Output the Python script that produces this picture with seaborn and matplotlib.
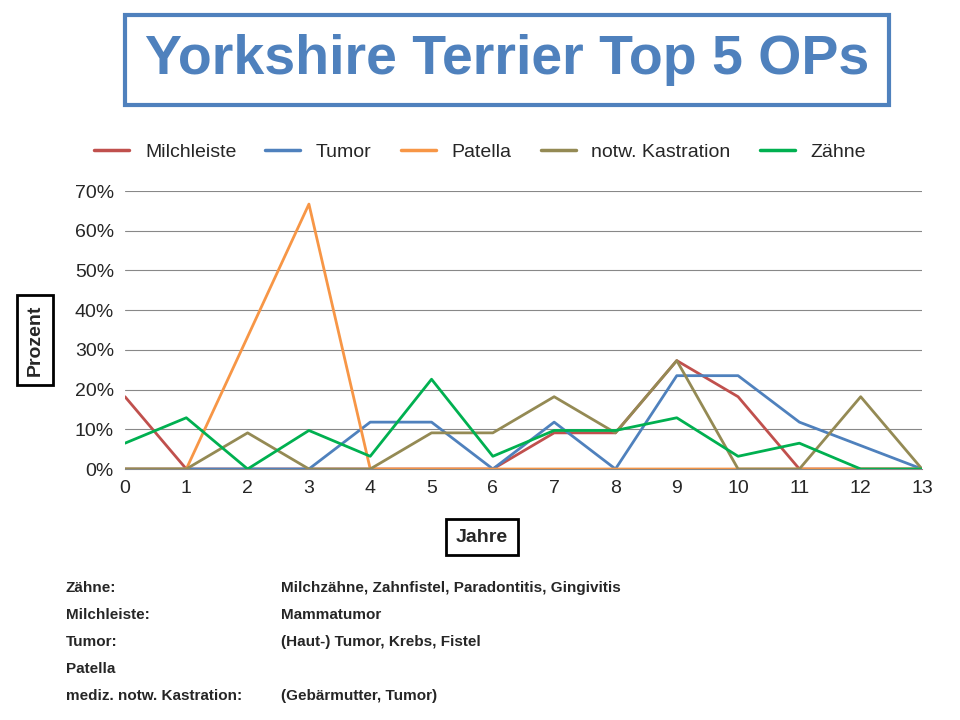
import matplotlib
matplotlib.use("Agg")
import matplotlib.pyplot as plt
from matplotlib.ticker import PercentFormatter
import seaborn as sns
import pandas as pd

jahre = list(range(14))
milchleiste = [18.2, 0, 0, 0, 0, 0, 0, 9.1, 9.1, 27.3, 18.2, 0, 0, 0]
tumor = [0, 0, 0, 0, 11.8, 11.8, 0, 11.8, 0, 23.5, 23.5, 11.8, 5.9, 0]
patella = [0, 0, 33.3, 66.7, 0, 0, 0, 0, 0, 0, 0, 0, 0, 0]
kastration = [0, 0, 9.1, 0, 0, 9.1, 9.1, 18.2, 9.1, 27.3, 0, 0, 18.2, 0]
zaehne = [6.5, 12.9, 0, 9.7, 3.2, 22.6, 3.2, 9.7, 9.7, 12.9, 3.2, 6.5, 0, 0]

serien = {"Milchleiste": milchleiste, "Tumor": tumor, "Patella": patella,
          "notw. Kastration": kastration, "Zähne": zaehne}
farben = ["#C0504D", "#4F81BD", "#F79646", "#948A54", "#00B050"]

df = pd.DataFrame([(j, name, v) for name, vals in serien.items() for j, v in zip(jahre, vals)],
                  columns=["Jahr", "Serie", "Wert"])

sns.set_style("white")
plt.rcParams['font.family'] = ['Liberation Sans', 'DejaVu Sans']

fig = plt.figure(figsize=(9.6, 7.2), dpi=100)
ax = fig.add_axes([125/960, 1-469/720, (922-125)/960, (469-191)/720])
sns.lineplot(data=df, x="Jahr", y="Wert", hue="Serie", palette=farben, linewidth=2, ax=ax, legend=False)

ax.set_xlim(0, 13)
ax.set_ylim(0, 70)
ax.set_xticks(jahre)
ax.set_yticks(range(0, 71, 10))
ax.yaxis.set_major_formatter(PercentFormatter(decimals=0))
ax.tick_params(labelsize=14, length=0, pad=8)
ax.grid(axis="y", color="#888888", linewidth=0.8)
for s in ["top", "right", "left"]:
    ax.spines[s].set_visible(False)
ax.spines["bottom"].set_color("#888888")
ax.set_xlabel("")
ax.set_ylabel("")

fig.text(507/960, 1-60/720, "Yorkshire Terrier Top 5 OPs", ha="center", va="center",
         fontsize=40, fontweight="bold", color="#4F81BD",
         bbox=dict(boxstyle="square,pad=0.35", fc="white", ec="#4F81BD", lw=3))

handles = [plt.Line2D([], [], color=c, lw=2.5) for c in farben]
fig.legend(handles, list(serien.keys()), loc="center", bbox_to_anchor=(480/960, 1-152/720),
           ncol=5, frameon=False, fontsize=14, handlelength=1.8, columnspacing=1.5)

fig.text(35/960, 1-340/720, "Prozent", rotation=90, ha="center", va="center", fontsize=14,
         fontweight="bold", bbox=dict(boxstyle="square,pad=0.5", fc="white", ec="black", lw=2))
fig.text(482/960, 1-537/720, "Jahre", ha="center", va="center", fontsize=14,
         fontweight="bold", bbox=dict(boxstyle="square,pad=0.5", fc="white", ec="black", lw=2))

notes = [("Zähne:", "Milchzähne, Zahnfistel, Paradontitis, Gingivitis"),
         ("Milchleiste:", "Mammatumor"),
         ("Tumor:", "(Haut-) Tumor, Krebs, Fistel"),
         ("Patella", ""),
         ("mediz. notw. Kastration:", "(Gebärmutter, Tumor)")]
for i, (a, b) in enumerate(notes):
    y = 1 - (588 + i * 27) / 720
    fig.text(66/960, y, a, fontsize=11, fontweight="bold", va="center")
    fig.text(281/960, y, b, fontsize=11, fontweight="bold", va="center")

fig.savefig("out.png", dpi=100)
